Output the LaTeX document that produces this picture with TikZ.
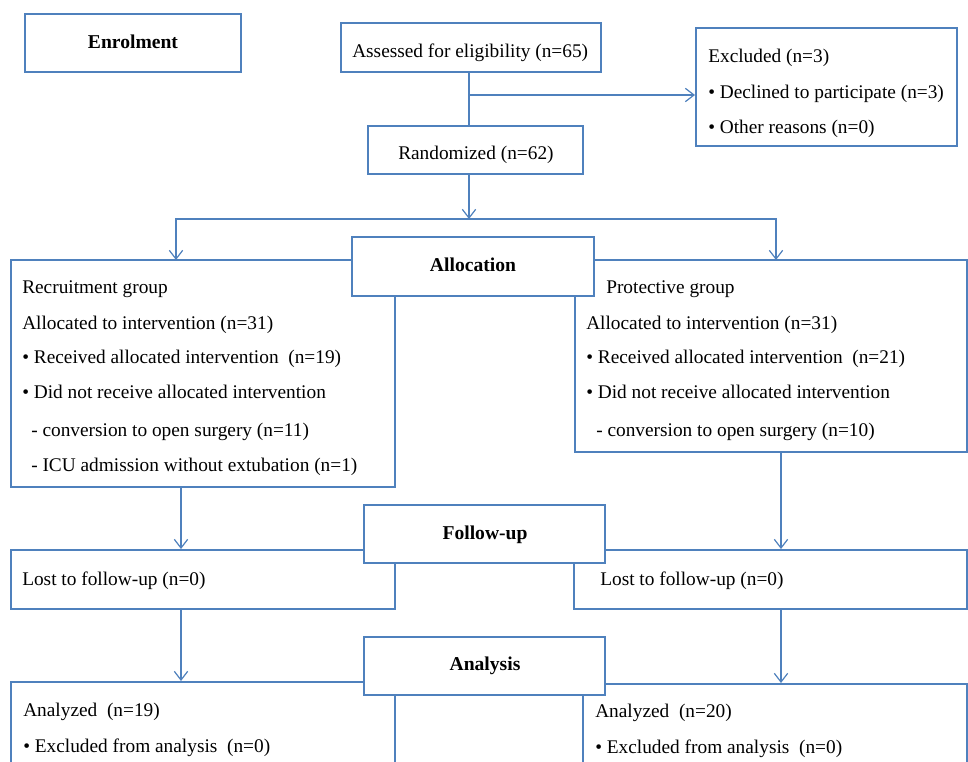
\documentclass[tikz,border=0pt]{standalone}
\usepackage{fontspec}
\setmainfont{Liberation Serif}
\usetikzlibrary{arrows.meta,fit}
\definecolor{cb}{HTML}{4F81BD}
\newcommand\mkbox[5]{\path (#2,#3) coordinate (#1-a) (#4,#5) coordinate (#1-b);\node[box,fit=(#1-a)(#1-b)] (#1) {};}
\begin{document}
\begin{tikzpicture}[x=0.75pt,y=-0.75pt,
 box/.style={draw=cb,line width=1.5pt,fill=white,inner sep=0pt},
 conn/.style={draw=cb,line width=0.9pt},
 arr/.style={conn,-{Straight Barb[length=6.5pt,width=10pt]}},
 txt/.style={anchor=west,inner sep=0pt,text height=14pt,text depth=3pt,font=\fontsize{14.5}{17}\selectfont},
 head/.style={inner sep=0pt,text height=14pt,text depth=3pt,font=\fontsize{14.7}{17}\selectfont\bfseries}]
\useasboundingbox (0,0) rectangle (968,761);
\fill[white] (0,0) rectangle (968,761);
\clip (0,0) rectangle (968,761);

% coordinates for connector routing
\coordinate (split) at (469,219);
\coordinate (brk) at (469,95);
\coordinate (recin) at (176,260);
\coordinate (protin) at (776,260);
\coordinate (colL) at (181,0);
\coordinate (colR) at (781,0);

% top boxes
\mkbox{enrol}{25}{14}{241}{72}
\node[head] (tenrol) at (133,41) {Enrolment};
\mkbox{assess}{341}{23}{601}{72}
\node[txt] (tassess) at (352,50) {Assessed for eligibility (n=65)};
\mkbox{exc}{696}{28}{957}{146}
\node[txt] (texc1) at (708,55) {Excluded (n=3)};
\node[txt] (texc2) at (708,91) {• Declined to participate (n=3)};
\node[txt] (texc3) at (708,126) {• Other reasons (n=0)};
\mkbox{rand}{368}{126}{583}{174}
\node[txt] (trand) at (398,152) {Randomized (n=62)};

% allocation
\mkbox{rec}{11}{260}{395}{487}
\mkbox{prot}{575}{260}{967}{452}
\mkbox{alloc}{352}{237}{594}{296}
\node[head] (talloc) at (473,264) {Allocation};
\node[txt] (r1) at (22,286) {Recruitment group};
\node[txt] (r2) at (22,322) {Allocated to intervention (n=31)};
\node[txt] (r3) at (22,356) {• Received allocated intervention\ \ (n=19)};
\node[txt] (r4) at (22,391) {• Did not receive allocated intervention};
\node[txt] (r5) at (31,429) {- conversion to open surgery (n=11)};
\node[txt] (r6) at (31,464) {- ICU admission without extubation (n=1)};
\node[txt] (p1) at (606,286) {Protective group};
\node[txt] (p2) at (586,322) {Allocated to intervention (n=31)};
\node[txt] (p3) at (586,356) {• Received allocated intervention\ \ (n=21)};
\node[txt] (p4) at (586,391) {• Did not receive allocated intervention};
\node[txt] (p5) at (596,429) {- conversion to open surgery (n=10)};

% follow-up
\mkbox{lostL}{11}{550}{395}{609}
\mkbox{lostR}{574}{550}{967}{609}
\mkbox{fup}{364}{505}{605}{563}
\node[head] (tfup) at (485,532) {Follow-up};
\node[txt] (tlostL) at (22,578) {Lost to follow-up (n=0)};
\node[txt] (tlostR) at (600,578) {Lost to follow-up (n=0)};

% analysis
\mkbox{anL}{11}{682}{395}{790}
\mkbox{anR}{583}{684}{967}{790}
\mkbox{ana}{364}{637}{605}{695}
\node[head] (tana) at (485,663) {Analysis};
\node[txt] (aL1) at (23,709) {Analyzed\ \ (n=19)};
\node[txt] (aL2) at (23,745) {• Excluded from analysis\ \ (n=0)};
\node[txt] (aR1) at (595,710) {Analyzed\ \ (n=20)};
\node[txt] (aR2) at (595,746) {• Excluded from analysis\ \ (n=0)};

% connectors
\draw[conn] (assess.south -| split) -- (rand.north -| split);
\draw[arr] (brk) -- (brk -| exc.west);
\draw[arr] (rand.south -| split) -- (split);
\draw[arr] (split) -| (recin);
\draw[arr] (split) -| (protin);
\draw[arr] (rec.south -| colL) -- (lostL.north -| colL);
\draw[arr] (prot.south -| colR) -- (lostR.north -| colR);
\draw[arr] (lostL.south -| colL) -- (anL.north -| colL);
\draw[arr] (lostR.south -| colR) -- (anR.north -| colR);
\end{tikzpicture}
\end{document}
